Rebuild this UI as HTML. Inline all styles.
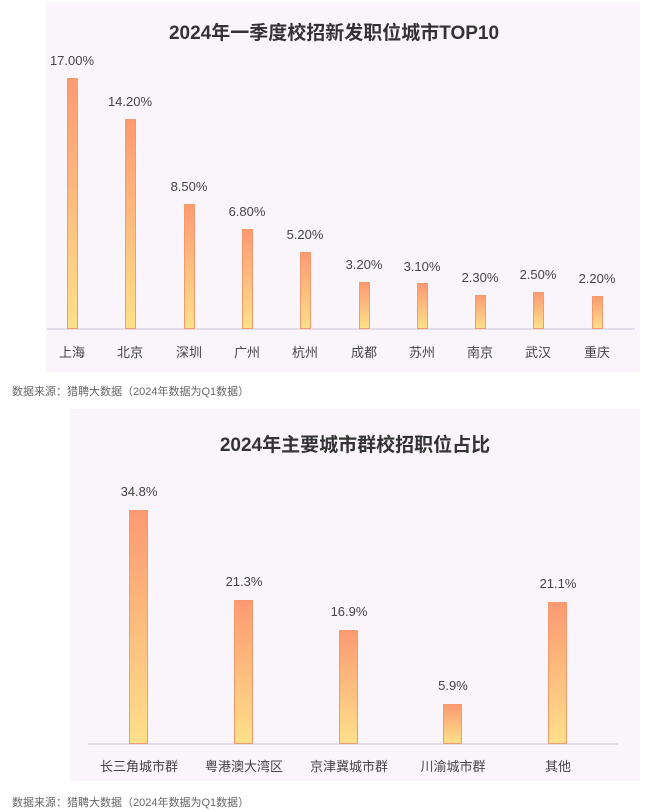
<!DOCTYPE html>
<html><head><meta charset="utf-8"><style>
body{margin:0;width:650px;height:812px;background:#fff;position:relative;overflow:hidden;font-family:"Liberation Sans","Noto Sans CJK SC",sans-serif}
.p{position:absolute;background:#f9f5fb}
.b{position:absolute;background:linear-gradient(#fc9a72,#fde08a);border:1px solid #f39a6e;box-sizing:border-box}
.t{position:absolute;font-size:13px;color:#444;transform:translateX(-50%);white-space:nowrap}
.h{position:absolute;font-weight:bold;font-size:19px;color:#333;transform:translateX(-50%);white-space:nowrap}
.f{position:absolute;left:12px;font-size:11px;color:#666}
.ax{position:absolute;height:2px;background:#e2dde8}
</style></head><body>
<div class="p" style="left:46px;top:2px;width:594px;height:370px"></div>
<div class="h" style="left:334px;top:18px">2024年一季度校招新发职位城市TOP10</div>
<div class="ax" style="left:47px;top:328px;width:588px"></div>
<div class="b" style="left:67px;top:78px;width:11px;height:251px"></div><div class="t" style="left:72px;top:53px">17.00%</div><div class="t" style="left:72px;top:342px">上海</div>
<div class="b" style="left:125px;top:119px;width:11px;height:210px"></div><div class="t" style="left:130px;top:94px">14.20%</div><div class="t" style="left:130px;top:342px">北京</div>
<div class="b" style="left:184px;top:204px;width:11px;height:125px"></div><div class="t" style="left:189px;top:179px">8.50%</div><div class="t" style="left:189px;top:342px">深圳</div>
<div class="b" style="left:242px;top:229px;width:11px;height:100px"></div><div class="t" style="left:247px;top:204px">6.80%</div><div class="t" style="left:247px;top:342px">广州</div>
<div class="b" style="left:300px;top:252px;width:11px;height:77px"></div><div class="t" style="left:305px;top:227px">5.20%</div><div class="t" style="left:305px;top:342px">杭州</div>
<div class="b" style="left:359px;top:282px;width:11px;height:47px"></div><div class="t" style="left:364px;top:257px">3.20%</div><div class="t" style="left:364px;top:342px">成都</div>
<div class="b" style="left:417px;top:283px;width:11px;height:46px"></div><div class="t" style="left:422px;top:259px">3.10%</div><div class="t" style="left:422px;top:342px">苏州</div>
<div class="b" style="left:475px;top:295px;width:11px;height:34px"></div><div class="t" style="left:480px;top:270px">2.30%</div><div class="t" style="left:480px;top:342px">南京</div>
<div class="b" style="left:533px;top:292px;width:11px;height:37px"></div><div class="t" style="left:538px;top:267px">2.50%</div><div class="t" style="left:538px;top:342px">武汉</div>
<div class="b" style="left:592px;top:296px;width:11px;height:33px"></div><div class="t" style="left:597px;top:271px">2.20%</div><div class="t" style="left:597px;top:342px">重庆</div>
<div class="f" style="top:383px">数据来源：猎聘大数据（2024年数据为Q1数据）</div>

<div class="p" style="left:70px;top:409px;width:570px;height:372px"></div>
<div class="h" style="left:355px;top:430px">2024年主要城市群校招职位占比</div>
<div class="ax" style="left:88px;top:743px;width:530px"></div>
<div class="b" style="left:129px;top:510px;width:19px;height:234px"></div><div class="t" style="left:139px;top:484px">34.8%</div><div class="t" style="left:139px;top:756px">长三角城市群</div>
<div class="b" style="left:234px;top:600px;width:19px;height:144px"></div><div class="t" style="left:244px;top:574px">21.3%</div><div class="t" style="left:244px;top:756px">粤港澳大湾区</div>
<div class="b" style="left:339px;top:630px;width:19px;height:114px"></div><div class="t" style="left:349px;top:604px">16.9%</div><div class="t" style="left:349px;top:756px">京津冀城市群</div>
<div class="b" style="left:443px;top:704px;width:19px;height:40px"></div><div class="t" style="left:453px;top:678px">5.9%</div><div class="t" style="left:453px;top:756px">川渝城市群</div>
<div class="b" style="left:548px;top:602px;width:19px;height:142px"></div><div class="t" style="left:558px;top:576px">21.1%</div><div class="t" style="left:558px;top:756px">其他</div>
<div class="f" style="top:794px">数据来源：猎聘大数据（2024年数据为Q1数据）</div>
</body></html>
